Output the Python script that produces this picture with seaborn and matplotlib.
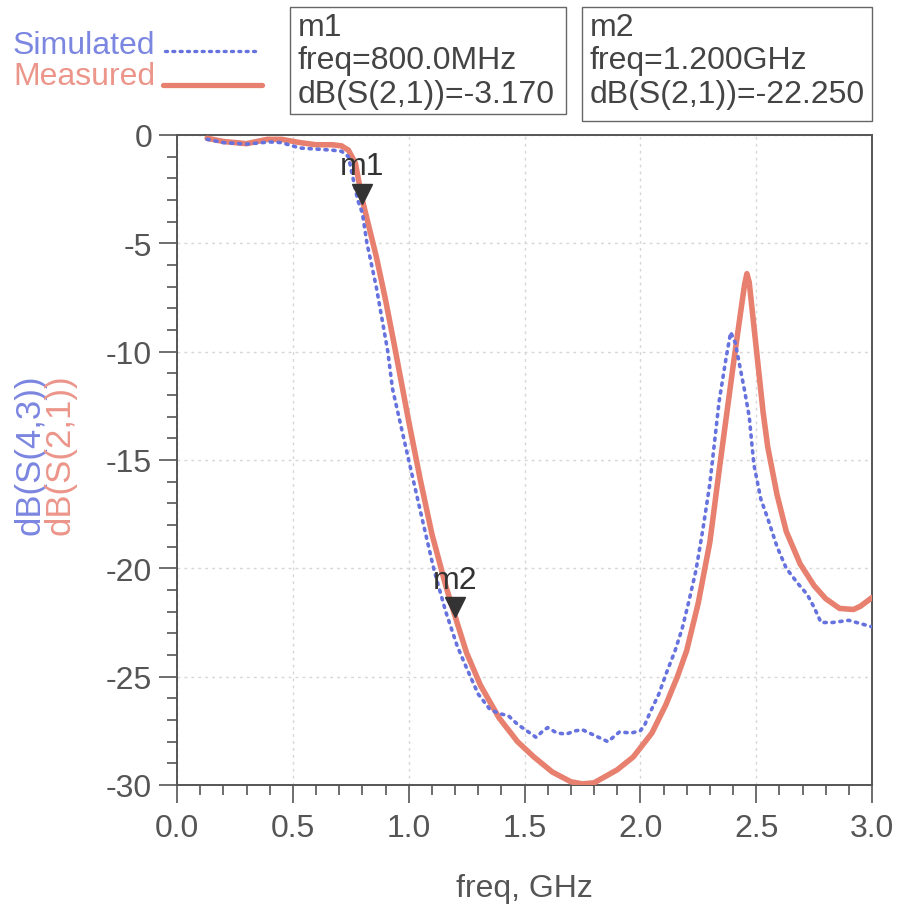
import numpy as np
import pandas as pd
import matplotlib
matplotlib.use("Agg")
import matplotlib.pyplot as plt
import matplotlib.transforms as mtransforms
from matplotlib.lines import Line2D
from matplotlib.patches import Rectangle
import seaborn as sns

# ---------------- data ----------------
freq_meas = [0.13, 0.2, 0.3, 0.39, 0.45, 0.53, 0.6, 0.67, 0.71, 0.74, 0.77, 0.8, 0.83, 0.86,
             0.9, 0.94, 1.0, 1.05, 1.1, 1.16, 1.2, 1.25, 1.31, 1.39, 1.47, 1.54, 1.62, 1.7,
             1.75, 1.8, 1.9, 1.97, 2.05, 2.11, 2.16, 2.2, 2.25, 2.3, 2.34, 2.37, 2.40, 2.43,
             2.45, 2.46, 2.47, 2.50, 2.53, 2.55, 2.59, 2.63, 2.69, 2.75, 2.8, 2.86, 2.92,
             2.95, 3.0]
db_meas = [-0.15, -0.3, -0.4, -0.2, -0.2, -0.35, -0.45, -0.45, -0.5, -0.7, -1.3, -3.0, -4.3,
           -5.6, -7.6, -9.8, -13.2, -15.9, -18.4, -20.8, -22.2, -23.9, -25.4, -26.9, -28.0,
           -28.7, -29.4, -29.85, -29.95, -29.9, -29.3, -28.7, -27.6, -26.3, -25.0, -23.8,
           -21.6, -18.8, -15.5, -13.1, -10.7, -8.4, -6.9, -6.4, -6.8, -9.8, -12.8, -14.4,
           -16.6, -18.3, -19.8, -20.8, -21.4, -21.85, -21.9, -21.75, -21.35]

freq_sim = [0.13, 0.2, 0.3, 0.4, 0.45, 0.53, 0.6, 0.67, 0.71, 0.74, 0.76, 0.78, 0.80, 0.82,
            0.86, 0.91, 0.93, 1.0, 1.06, 1.11, 1.16, 1.21, 1.25, 1.3, 1.35, 1.39, 1.43, 1.47,
            1.51, 1.55, 1.58, 1.6, 1.64, 1.68, 1.72, 1.75, 1.8, 1.86, 1.91, 1.96, 2.0, 2.02,
            2.04, 2.08, 2.11, 2.15, 2.18, 2.21, 2.24, 2.27, 2.30, 2.34, 2.37, 2.39, 2.41,
            2.43, 2.45, 2.47, 2.49, 2.52, 2.55, 2.59, 2.63, 2.68, 2.72, 2.75, 2.78, 2.83,
            2.9, 2.95, 3.0]
db_sim = [-0.2, -0.35, -0.42, -0.32, -0.35, -0.6, -0.65, -0.7, -0.75, -1.0, -2.0, -3.0, -3.6,
          -5.0, -7.0, -10.0, -11.7, -15.0, -17.8, -20.1, -22.0, -23.6, -24.6, -25.8, -26.5,
          -26.7, -26.8, -27.2, -27.5, -27.8, -27.5, -27.35, -27.6, -27.65, -27.5, -27.45,
          -27.7, -28.0, -27.55, -27.6, -27.5, -27.2, -26.7, -25.8, -24.9, -23.8, -22.8,
          -21.5, -20.1, -18.2, -16.1, -12.3, -10.3, -9.1, -9.6, -10.7, -11.8, -13.0, -15.2,
          -16.8, -17.7, -19.0, -20.0, -20.7, -21.2, -21.8, -22.5, -22.5, -22.4, -22.55, -22.7]

markers_name = ["m1", "m2"]
markers_freq = [0.8, 1.2]
markers_val = [-3.17, -22.25]
markers_lines = [["m1", "freq=800.0MHz", "dB(S(2,1))=-3.170"],
                 ["m2", "freq=1.200GHz", "dB(S(2,1))=-22.250"]]

x_ticks = [0.0, 0.5, 1.0, 1.5, 2.0, 2.5, 3.0]
x_ticklabels = ["0.0", "0.5", "1.0", "1.5", "2.0", "2.5", "3.0"]
y_ticks = [0, -5, -10, -15, -20, -25, -30]
y_ticklabels = ["0", "-5", "-10", "-15", "-20", "-25", "-30"]

# ---------------- style ----------------
sns.set_style("white")
plt.rcParams["font.family"] = ["Liberation Sans", "DejaVu Sans"]

RED = "#e8806f"
RED_TXT = "#ec958a"
BLUE = "#6672dd"
BLUE_TXT = "#7b86e0"
GRAY = "#555555"
DARK = "#333333"

W, H = 899, 912
fig = plt.figure(figsize=(W / 100, H / 100), dpi=100)
ax = fig.add_axes([177 / W, 1 - 786 / H, (872 - 177) / W, (786 - 136) / H])

df_meas = pd.DataFrame({"freq": freq_meas, "db": db_meas})
df_sim = pd.DataFrame({"freq": freq_sim, "db": db_sim})

sns.lineplot(data=df_meas, x="freq", y="db", ax=ax, color=RED, linewidth=4.0,
             estimator=None, sort=False, zorder=3)
sns.lineplot(data=df_sim, x="freq", y="db", ax=ax, color=BLUE, linewidth=2.6,
             estimator=None, sort=False, zorder=4, dashes=False)
ax.lines[-1].set_linestyle((0, (0.6, 1.6)))
ax.lines[-1].set_dash_capstyle("round")

ax.set_xlim(0, 3.0)
ax.set_ylim(-30, 0)
ax.set_xticks(x_ticks)
ax.set_xticklabels(x_ticklabels)
ax.set_yticks(y_ticks)
ax.set_yticklabels(y_ticklabels)
ax.set_xticks(np.arange(0, 3.0001, 0.1), minor=True)
ax.set_yticks(np.arange(-30, 0.001, 1), minor=True)
ax.tick_params(axis="both", which="both", bottom=True, left=True, top=False, right=False)
ax.tick_params(axis="both", which="major", direction="out", length=13, width=1.2,
               color=GRAY, labelcolor=GRAY, labelsize=23)
ax.tick_params(axis="both", which="minor", direction="out", length=7, width=1.2, color=GRAY)
ax.tick_params(axis="x", which="major", pad=7)
ax.tick_params(axis="y", which="major", pad=5)
ax.set_xlabel("freq, GHz", fontsize=23, color=GRAY, labelpad=22)
ax.set_ylabel("")
ax.grid(True, which="major", color="#d6d6d6", linestyle=(0, (2, 3)), linewidth=1.0)
for s in ax.spines.values():
    s.set_color(GRAY)
    s.set_linewidth(1.4)
    s.set_visible(True)

# markers
for name, f, v in zip(markers_name, markers_freq, markers_val):
    off = mtransforms.ScaledTranslation(0, 7 / 72, fig.dpi_scale_trans)
    ax.plot([f], [v], marker="v", markersize=14, color=DARK, linestyle="none",
            transform=ax.transData + off, zorder=6, clip_on=False)
    ax.annotate(name, xy=(f, v), xytext=(0, 27), textcoords="offset points",
                ha="center", va="center", fontsize=23, color=DARK, zorder=7)

# y labels (two coloured, side by side)
fig.text(30 / W, 1 - 455 / H, "dB(S(4,3))", rotation=90, ha="center", va="center",
         fontsize=25, color=BLUE_TXT)
fig.text(60 / W, 1 - 455 / H, "dB(S(2,1))", rotation=90, ha="center", va="center",
         fontsize=25, color=RED_TXT)

# legend (top-left)
fig.text(155 / W, 1 - 46 / H, "Simulated", ha="right", va="center", fontsize=23, color=BLUE_TXT)
fig.text(155 / W, 1 - 77 / H, "Measured", ha="right", va="center", fontsize=23, color=RED_TXT)
fig.add_artist(Line2D([165 / W, 258 / W], [1 - 52 / H, 1 - 52 / H], color=BLUE, linewidth=2.4,
                      linestyle=(0, (0.6, 1.6)), dash_capstyle="round",
                      transform=fig.transFigure))
fig.add_artist(Line2D([163 / W, 262 / W], [1 - 86 / H, 1 - 86 / H], color=RED, linewidth=3.8,
                      solid_capstyle="round", transform=fig.transFigure))

# marker readout boxes
boxes = [(290, 8, 566, 115), (582, 8, 872, 122)]
for (x0, y0, x1, y1), lines in zip(boxes, markers_lines):
    fig.add_artist(Rectangle((x0 / W, 1 - y1 / H), (x1 - x0) / W, (y1 - y0) / H,
                             transform=fig.transFigure, fill=False, edgecolor="#666666",
                             linewidth=1.0))
    for i, t in enumerate(lines):
        fig.text((x0 + 8) / W, 1 - (y0 + 20 + 33.5 * i) / H, t, ha="left", va="center",
                 fontsize=23, color="#444444")

fig.savefig("out.png", dpi=100)
